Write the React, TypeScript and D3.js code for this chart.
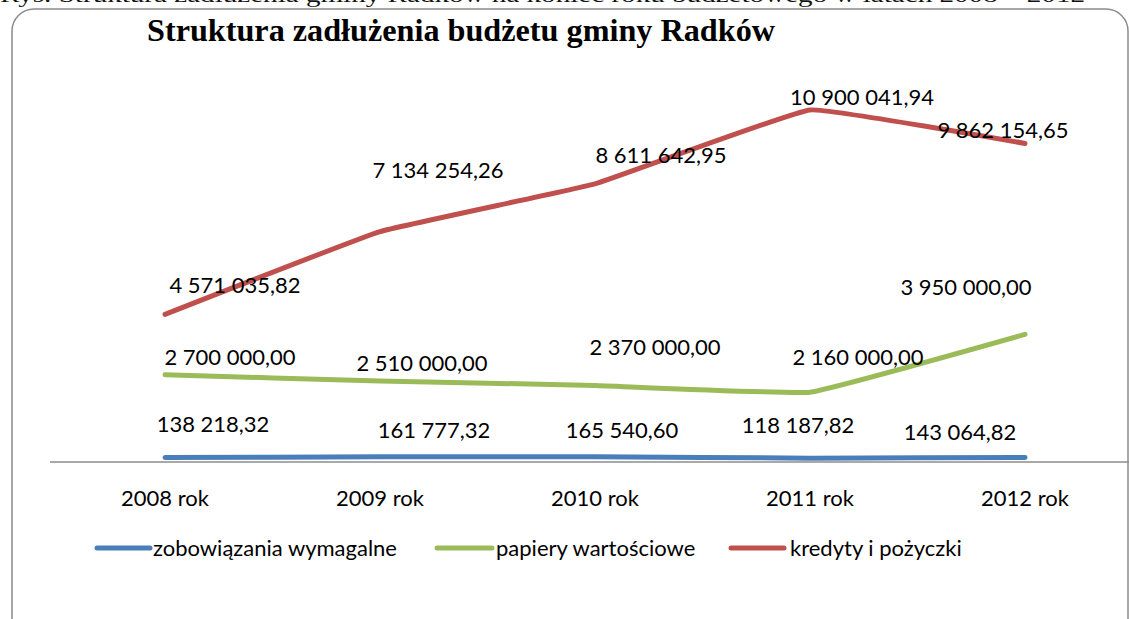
import React from "react";
import * as d3 from "d3";

const years = ["2008 rok", "2009 rok", "2010 rok", "2011 rok", "2012 rok"];
const zobowiazania = [138218.32, 161777.32, 165540.6, 118187.82, 143064.82];
const papiery = [2700000.0, 2510000.0, 2370000.0, 2160000.0, 3950000.0];
const kredyty = [4571035.82, 7134254.26, 8611642.95, 10900041.94, 9862154.65];
const seriesNames = ["zobowiązania wymagalne", "papiery wartościowe", "kredyty i pożyczki"];
const colors = ["#4A7EBB", "#9BBB59", "#C0504D"];

// label offsets (layout) relative to data points: [dx, dy]
const labelOffsets = [
  [[48, -26], [54, -19], [27, -19], [-12, -25], [-65, -17]],
  [[65, -10], [42, -10], [60, -30], [48, -27], [-59, -39]],
  [[70, -21], [58, -54], [66, -21], [52, -5], [-22, -5]],
];

const fmt = (v: number) => {
  const [i, d] = v.toFixed(2).split(".");
  const withSp = i.replace(/\B(?=(\d{3})+(?!\d))/g, " ");
  return withSp + "," + d;
};

export default function App() {
  const W = 1129, H = 619;
  const x = d3.scalePoint<string>().domain(years).range([165, 1025]);
  const y = d3.scaleLinear().domain([0, 12000000]).range([462, 74.4]);
  const data = [zobowiazania, papiery, kredyty];
  const line = d3
    .line<number>()
    .x((_, i) => x(years[i]) as number)
    .y((d) => y(d))
    .curve(d3.curveCardinal.tension(0.75));

  const legendX = [[97, 150, 153], [437, 492, 496], [731, 784, 790]];
  const font = "Lato, 'Open Sans', sans-serif";

  return (
    <svg width={W} height={H} style={{ position: "absolute", left: 0, top: 0, background: "#fff" }}>
      <text x={0} y={2} fontFamily="'Liberation Serif', serif" fontSize={21} fill="#111" textLength={1085} lengthAdjust="spacingAndGlyphs">
        Rys. Struktura zadłużenia gminy Radków na koniec roku budżetowego w latach 2008 – 2012
      </text>
      <rect x={12} y={9} width={1116} height={640} rx={22} fill="#fff" stroke="#8c8c8c" strokeWidth={1.5} />
      <text x={147} y={41} fontFamily="'Liberation Serif', serif" fontWeight="bold" fontSize={31} fill="#000" textLength={628} lengthAdjust="spacingAndGlyphs">
        Struktura zadłużenia budżetu gminy Radków
      </text>
      <line x1={50} x2={1129} y1={y(0)} y2={y(0)} stroke="#8c8c8c" strokeWidth={1.5} />
      {years.map((yr) => (
        <text key={yr} x={x(yr)} y={506} textAnchor="middle" fontFamily={font} fontSize={22} fill="#000">
          {yr}
        </text>
      ))}
      {data.map((s, k) => (
        <path key={k} d={line(s) || ""} fill="none" stroke={colors[k]} strokeWidth={5} strokeLinecap="round" strokeLinejoin="round" />
      ))}
      {data.map((s, k) =>
        s.map((v, i) => (
          <text
            key={k + "-" + i}
            x={(x(years[i]) as number) + labelOffsets[k][i][0]}
            y={y(v) + labelOffsets[k][i][1]}
            textAnchor="middle"
            fontFamily={font}
            fontSize={22}
            fill="#000"
          >
            {fmt(v)}
          </text>
        ))
      )}
      {seriesNames.map((n, k) => (
        <g key={n}>
          <line x1={legendX[k][0]} x2={legendX[k][1]} y1={548} y2={548} stroke={colors[k]} strokeWidth={5} strokeLinecap="round" />
          <text x={legendX[k][2]} y={556} fontFamily={font} fontSize={22} fill="#000">
            {n}
          </text>
        </g>
      ))}
    </svg>
  );
}
